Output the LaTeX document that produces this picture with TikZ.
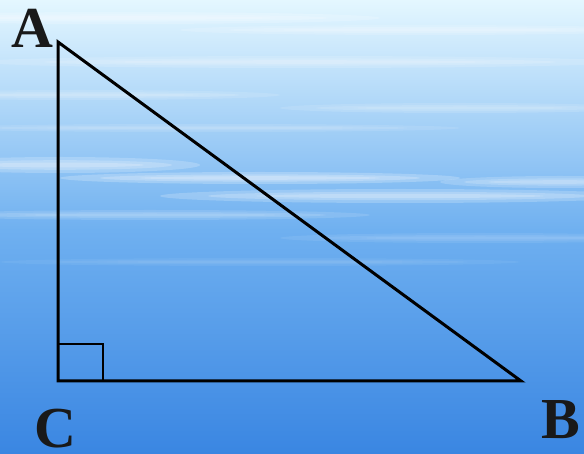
\documentclass[tikz,border=0pt]{standalone}
\usepackage{fontspec}
\setmainfont{Liberation Serif}
\usetikzlibrary{positioning,calc}

\definecolor{skytop}{HTML}{E4F7FF}
\definecolor{skymid}{HTML}{6FB0F0}
\definecolor{skylow}{HTML}{3A86E2}

\begin{document}
\begin{tikzpicture}[x=1pt,y=-1pt,
    side/.style={line width=3pt, line join=miter},
    vertex/.style={font=\fontsize{58}{58}\selectfont\bfseries, text=black!90, inner sep=0pt},
    streak/.style={white}
]
% background
\shade[top color=skytop, bottom color=skymid] (0,0) rectangle (584,230);
\shade[top color=skymid, bottom color=skylow] (0,230) rectangle (584,454);
\useasboundingbox (0,0) rectangle (584,454);

% water streaks
\foreach \cx/\cy/\rx/\ry/\op in {
    120/18/260/6/0.18, 420/30/240/5/0.15, 300/62/320/6/0.14, 80/95/200/5/0.12,
    460/108/180/5/0.12, 200/128/260/4/0.1, 60/165/140/8/0.2, 260/178/200/6/0.22,
    400/196/240/7/0.2, 560/182/120/6/0.18, 150/215/220/5/0.12, 480/238/200/5/0.08,
    260/262/260/4/0.06}
  {\fill[streak, opacity=\op] (\cx,\cy) ellipse ({\rx pt} and {\ry pt});
   \fill[streak, opacity=\op] (\cx,\cy) ellipse ({0.8*\rx pt} and {0.6*\ry pt});
   \fill[streak, opacity=\op] (\cx,\cy) ellipse ({0.6*\rx pt} and {0.3*\ry pt});}

% vertices
\coordinate (A) at (58,42);
\coordinate (C) at (58,381);
\coordinate (B) at (521,381);

% triangle
\draw[side] (A) -- (C) -- (B) -- cycle;

% right angle mark
\draw[line width=2.5pt] ($(C)+(0,-37)$) -| ($(C)+(45,0)$);

% labels
\node[vertex, anchor=base] (labA) at (32,48) {A};
\node[vertex, anchor=base] (labC) at (55,447) {C};
\node[vertex, anchor=base] (labB) at (561,438) {B};
\end{tikzpicture}
\end{document}
